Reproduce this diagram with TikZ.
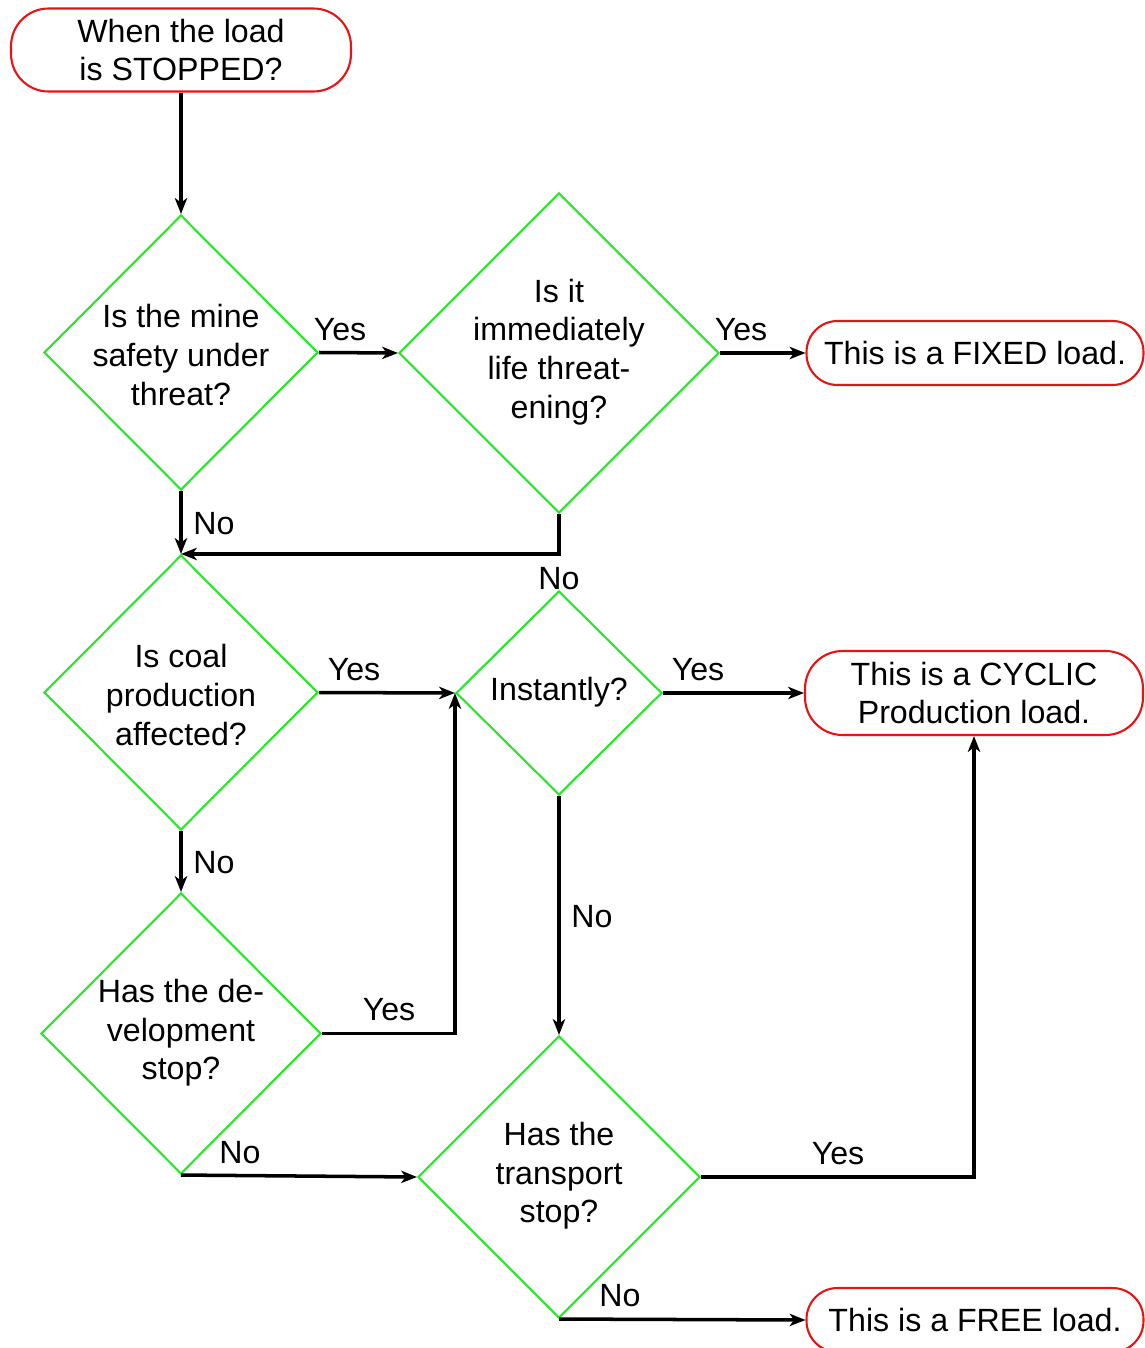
\documentclass[tikz,border=0pt]{standalone}
\usepackage{fontspec}
\setmainfont{Liberation Sans}
\usetikzlibrary{shapes.geometric,arrows.meta}
\definecolor{qgreen}{RGB}{40,230,40}
\definecolor{tred}{RGB}{232,20,20}
\begin{document}
\begin{tikzpicture}[x=0.02cm,y=-0.02cm,
  font=\fontsize{18.3}{22}\selectfont,
  decision/.style={diamond, draw=qgreen, line width=1.2pt, inner sep=0pt, aspect=1},
  terminal/.style={rectangle, draw=tred, line width=1.2pt, inner sep=0pt, align=center},
  qtext/.style={align=center, inner sep=0pt},
  flow/.style={draw, line width=2pt, -{Stealth[length=9pt,width=7pt,inset=2.5pt]}},
  lbl/.style={inner sep=0pt}]
\useasboundingbox (0,0) rectangle (1144,1348);

% terminals
\node[terminal, minimum width=6.8cm, minimum height=1.66cm, rounded corners=0.75cm]
  (start) at (181,50) {When the load\\is STOPPED?};
\node[terminal, minimum width=6.74cm, minimum height=1.28cm, rounded corners=0.62cm]
  (fixed) at (975,353) {This is a FIXED load.};
\node[terminal, minimum width=6.76cm, minimum height=1.68cm, rounded corners=0.75cm]
  (cyclic) at (974,693) {This is a CYCLIC\\Production load.};
\node[terminal, minimum width=6.74cm, minimum height=1.28cm, rounded corners=0.62cm]
  (free) at (975,1320) {This is a FREE load.};

% decisions
\node[decision, minimum width=5.48cm, minimum height=5.5cm] (d1) at (181,352.5) {};
\node[qtext] (d1t) at (181,355) {Is the mine\\safety under\\threat?};
\node[decision, minimum width=6.4cm, minimum height=6.4cm] (d2) at (559,353) {};
\node[qtext] (d2t) at (559,352) {Is it\\immediately\\life threat-\\ening?};
\node[decision, minimum width=5.48cm, minimum height=5.5cm] (d3) at (181,692.5) {};
\node[qtext] (d3t) at (181,695) {Is coal\\production\\affected?};
\node[decision, minimum width=4.12cm, minimum height=4.08cm] (inst) at (559,693) {};
\node[qtext] (instt) at (559,692) {Instantly?};
\node[decision, minimum width=5.6cm, minimum height=5.62cm] (d4) at (181,1033.5) {};
\node[qtext] (d4t) at (181,1033) {Has the de-\\velopment\\stop?};
\node[decision, minimum width=5.64cm, minimum height=5.64cm] (d5) at (559,1177) {};
\node[qtext] (d5t) at (559,1176) {Has the\\transport\\stop?};

% connectors
\draw[flow] (start.south) -- (d1.north);
\draw[flow] (d1.east) -- (d2.west);
\draw[flow] (d2.east) -- (fixed.west);
\draw[flow] (d1.south) -- (d3.north);
\draw[flow] (d2.south) |- (d3.north);
\draw[flow] (d3.east) -- (inst.west);
\draw[flow] (inst.east) -- (cyclic.west);
\draw[flow] (d3.south) -- (d4.north);
\draw[flow] (d4.east) -| (inst.west);
\draw[flow] (inst.south) -- (d5.north);
\draw[flow] (d4.south) -- (d5.west);
\draw[flow] (d5.east) -| (cyclic.south);
\draw[flow] (d5.south) -- (free.west);

% branch labels
\node[lbl] (y1) at (340,330) {Yes};
\node[lbl] (y2) at (741,330) {Yes};
\node[lbl] (y3) at (354,670) {Yes};
\node[lbl] (y4) at (698,670) {Yes};
\node[lbl] (y5) at (389,1010) {Yes};
\node[lbl] (y6) at (838,1154) {Yes};
\node[lbl] (n1) at (214,524) {No};
\node[lbl] (n2) at (559,579) {No};
\node[lbl] (n3) at (214,863) {No};
\node[lbl] (n4) at (592,917) {No};
\node[lbl] (n5) at (240,1153) {No};
\node[lbl] (n6) at (620,1296) {No};
\end{tikzpicture}
\end{document}
